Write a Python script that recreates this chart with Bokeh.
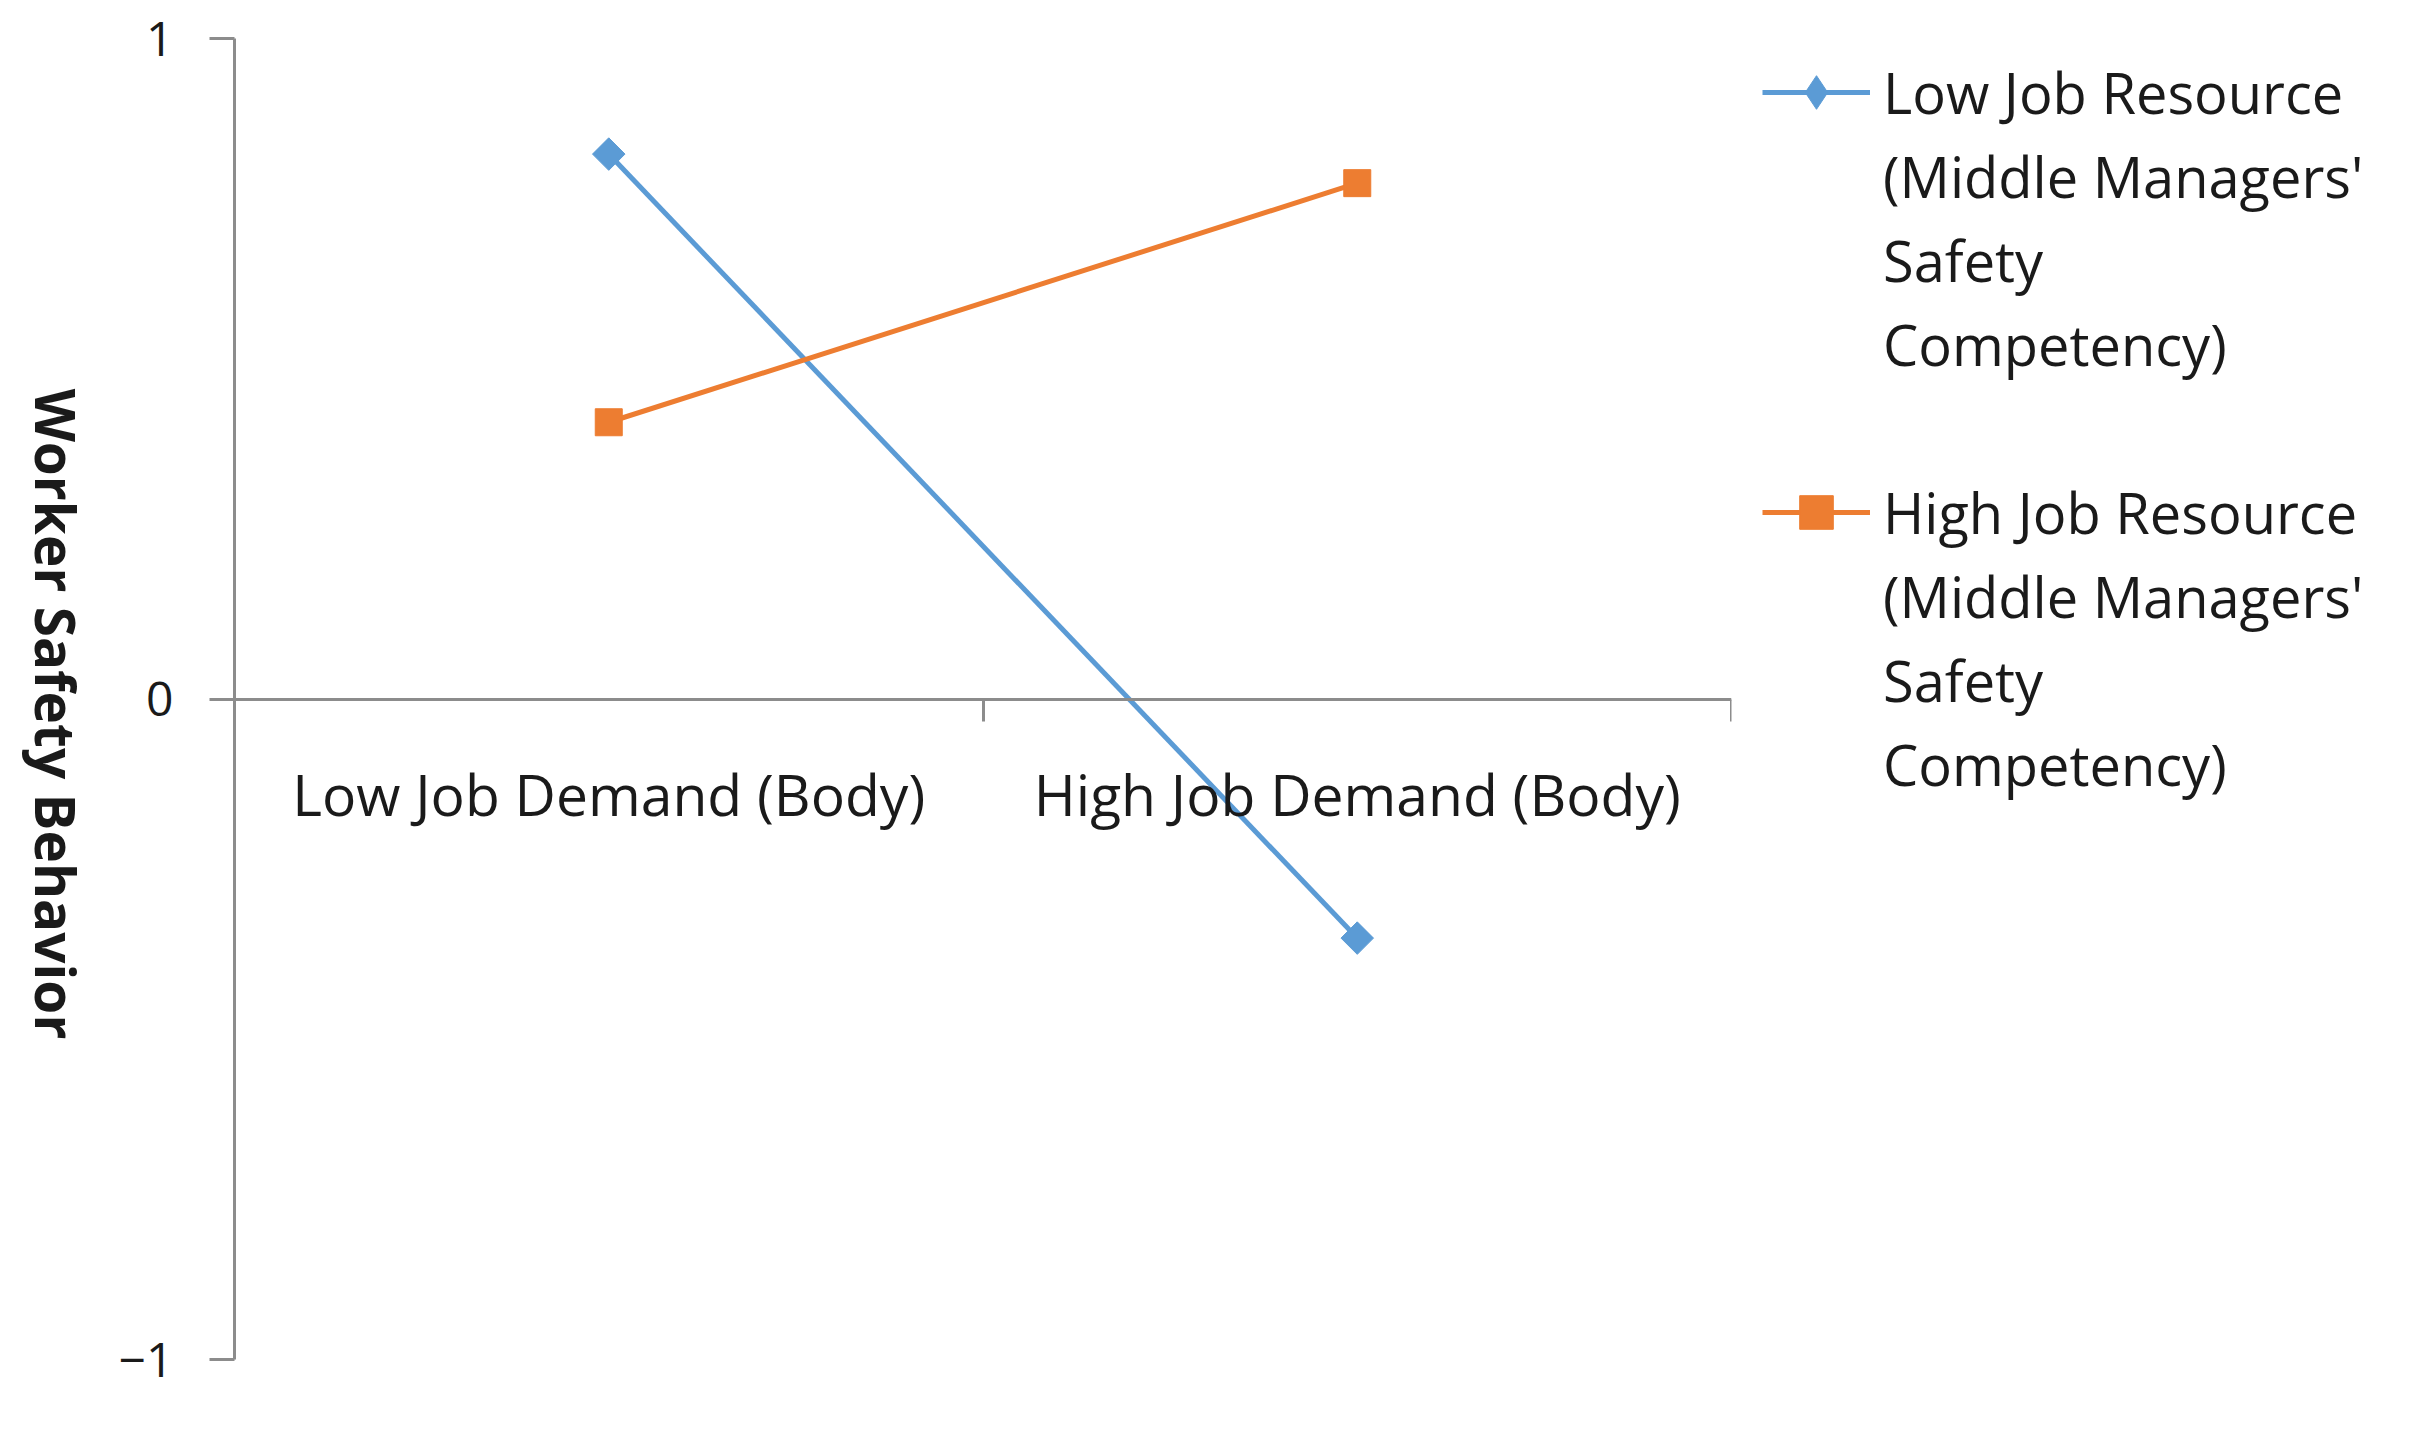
import math
from bokeh.plotting import figure
from bokeh.layouts import row
from bokeh.models import LinearAxis, FixedTicker, Range1d, Legend, LegendItem, Label
from bokeh.embed import file_html
from bokeh.resources import INLINE

# ---- data ----
categories = ["Low Job Demand (Body)", "High Job Demand (Body)"]
series_lines = [
    ["Low Job Resource", "(Middle Managers'", "Safety", "Competency)"],
    ["High Job Resource", "(Middle Managers'", "Safety", "Competency)"],
]
low_resource = [0.825, -0.362]
high_resource = [0.419, 0.781]
y_ticks = [-1, 0, 1]
y_tick_labels = ["\u22121", "0", "1"]
y_title = "Worker Safety Behavior"

BLUE = "#5B9BD5"
ORANGE = "#ED7D31"
AXIS = "#8C8C8C"
TEXT = "#1a1a1a"
FONT = "Open Sans"

x_pos = [i + 0.5 for i in range(len(categories))]
x_bounds = list(range(len(categories) + 1))

TOP, BOTTOM, FRAME_H = 38, 60, 1321
TITLE_W = 100

# ---- narrow strip holding the y-axis title ----
tf = figure(
    frame_width=TITLE_W, frame_height=FRAME_H,
    x_range=Range1d(0, 1), y_range=Range1d(y_ticks[0], y_ticks[-1]),
    output_backend="svg", toolbar_location=None,
    x_axis_location=None, y_axis_location=None,
    min_border_left=0, min_border_right=0, min_border_top=TOP, min_border_bottom=BOTTOM,
)
tf.grid.visible = False
tf.outline_line_color = None
tf.add_layout(Label(
    x=56, x_units="screen", y=FRAME_H / 2 - 15, y_units="screen", text=y_title,
    angle=-math.pi / 2, text_align="center", text_baseline="middle",
    text_font=FONT, text_font_style="bold", text_font_size="55px", text_color=TEXT,
))

# ---- main chart ----
p = figure(
    frame_width=1497, frame_height=FRAME_H,
    x_range=Range1d(0, len(categories)), y_range=Range1d(y_ticks[0], y_ticks[-1]),
    output_backend="svg", toolbar_location=None,
    x_axis_location=None, y_axis_location="left",
    min_border_left=234 - TITLE_W, min_border_top=TOP, min_border_bottom=BOTTOM,
    min_border_right=650,
)
p.grid.visible = False
p.outline_line_color = None
p.background_fill_color = "white"
p.border_fill_color = "white"

# y axis
ya = p.yaxis[0]
ya.ticker = FixedTicker(ticks=y_ticks)
ya.major_label_overrides = dict(zip(y_ticks, y_tick_labels))
ya.axis_line_color = AXIS
ya.axis_line_width = 3
ya.major_tick_line_color = AXIS
ya.major_tick_line_width = 3
ya.major_tick_out = 25
ya.major_tick_in = 0
ya.minor_tick_line_color = None
ya.major_label_standoff = 36
ya.major_label_text_font = FONT
ya.major_label_text_font_size = "48px"
ya.major_label_text_color = TEXT

# x axis crossing at y = 0 (labels pushed below the line)
xa = LinearAxis(
    ticker=FixedTicker(ticks=x_pos, minor_ticks=x_bounds),
    fixed_location=0,
    major_label_overrides=dict(zip(x_pos, categories)),
    axis_line_color=AXIS, axis_line_width=3,
    major_tick_line_color=None, major_tick_out=0, major_tick_in=0,
    minor_tick_line_color=AXIS, minor_tick_line_width=3,
    minor_tick_in=22, minor_tick_out=0,
    major_label_standoff=-134,
    major_label_text_font=FONT, major_label_text_font_size="57px",
    major_label_text_color=TEXT,
)
p.add_layout(xa, "above")

# series
l1 = p.line(x_pos, low_resource, line_color=BLUE, line_width=5)
d1 = p.scatter(x_pos, low_resource, marker="diamond", size=30,
               fill_color=BLUE, line_color=BLUE)
s1 = p.scatter(x_pos, low_resource, marker="square", angle=math.pi / 4, size=23,
               fill_color=BLUE, line_color=BLUE)
l2 = p.line(x_pos, high_resource, line_color=ORANGE, line_width=5)
s2 = p.scatter(x_pos, high_resource, marker="square", size=27,
               fill_color=ORANGE, line_color=ORANGE)

items = []
for lines, rends in zip(series_lines, [[l1, d1], [l2, s2]]):
    items.append(LegendItem(label=lines[0], renderers=rends))
    for t in lines[1:]:
        items.append(LegendItem(label=t, renderers=[]))
    if len(items) < 5:
        items.append(LegendItem(label=" ", renderers=[]))

legend = Legend(
    items=items,
    location=(31, 553), margin=0, padding=0,
    border_line_color=None, background_fill_alpha=0,
    glyph_width=108, glyph_height=84, label_height=84,
    label_standoff=13, spacing=0,
    label_text_font=FONT, label_text_font_size="56px", label_text_color=TEXT,
)
p.add_layout(legend, "right")

open("out.html", "w").write(file_html(row(tf, p), INLINE))
